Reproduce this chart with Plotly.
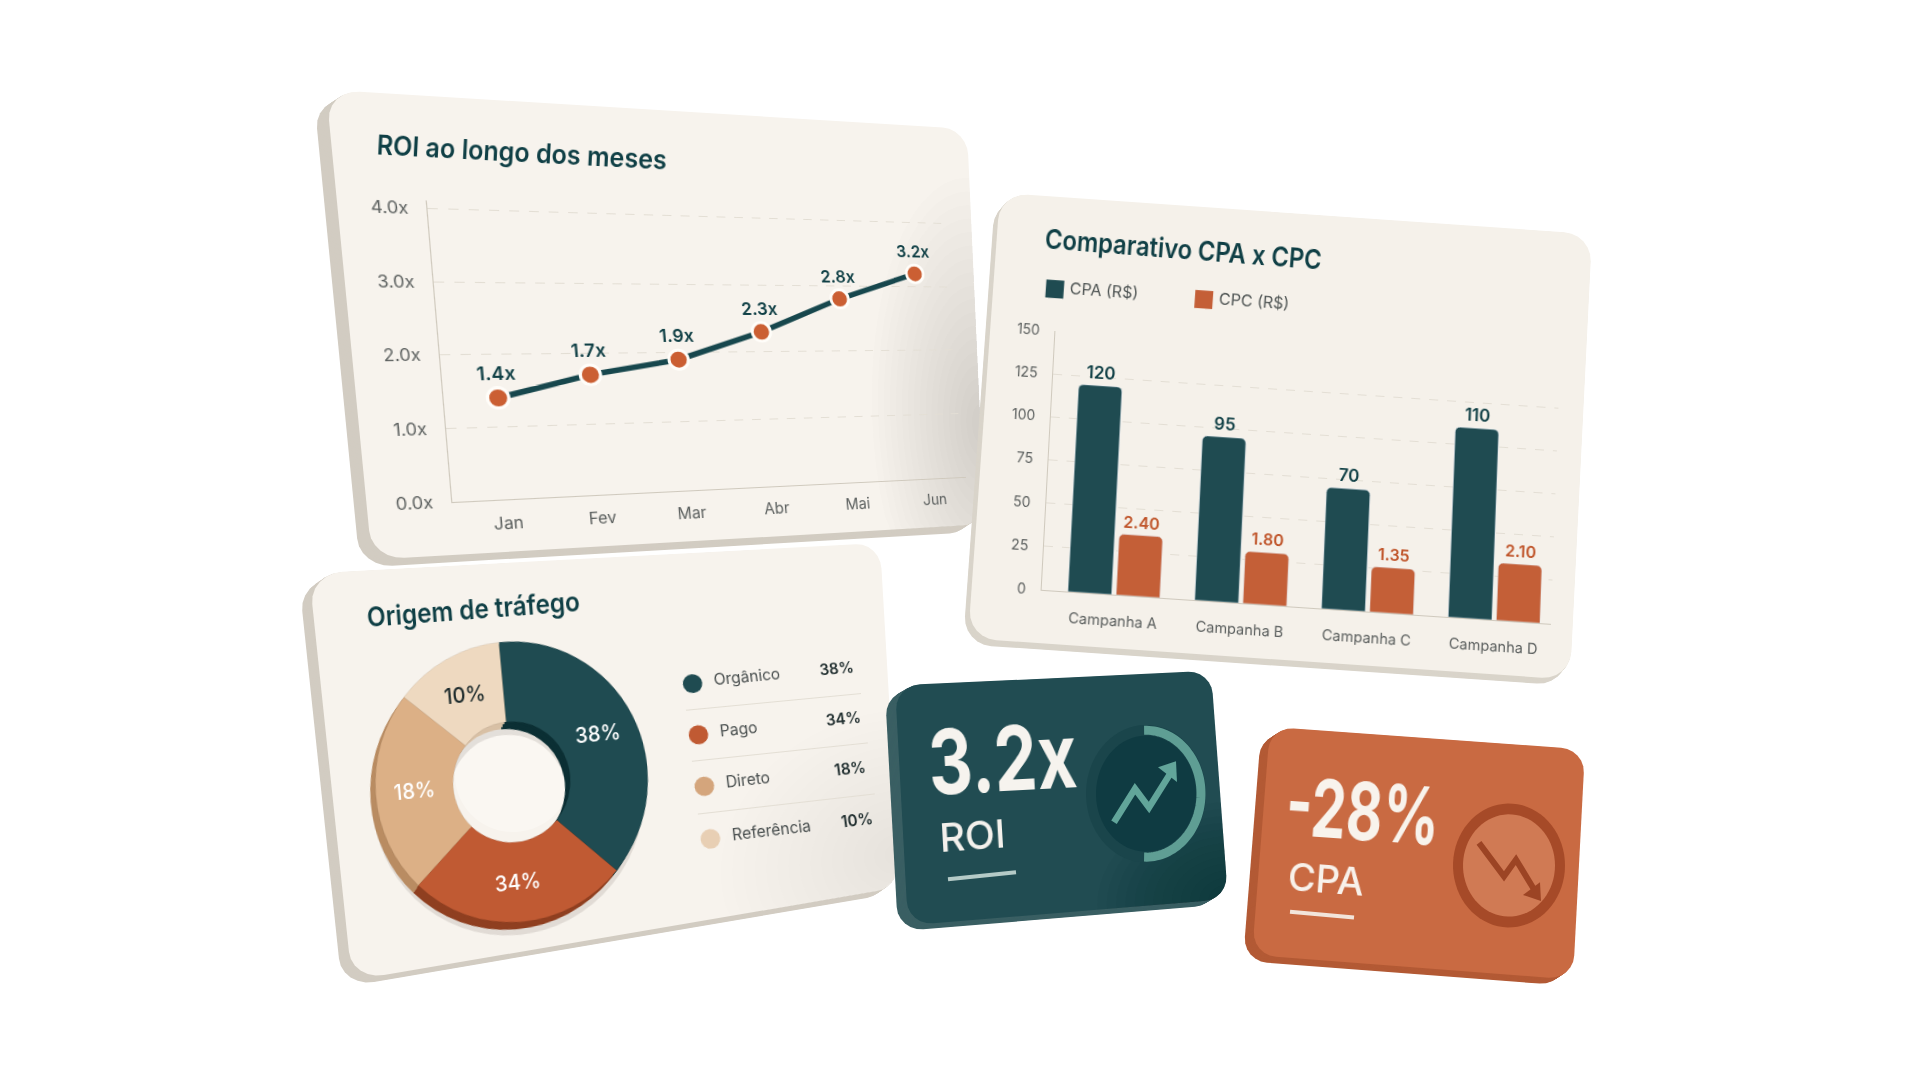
import json
import numpy as np
import plotly.graph_objects as go

# ---------- data ----------
months = ["Jan", "Fev", "Mar", "Abr", "Mai", "Jun"]
roi_values = [1.4, 1.7, 1.9, 2.3, 2.8, 3.2]
roi_ticks = [0, 1, 2, 3, 4]
roi_tick_labels = ["0.0x", "1.0x", "2.0x", "3.0x", "4.0x"]
campaigns = ["Campanha A", "Campanha B", "Campanha C", "Campanha D"]
cpa_values = [120, 95, 70, 110]
cpc_values = [2.40, 1.80, 1.35, 2.10]
cpc_bar_heights = [35, 30, 26, 33]      # drawn height of the CPC bars, on the 0-150 axis
bar_legend_names = ["CPA (R$)", "CPC (R$)"]
bar_ticks = [0, 25, 50, 75, 100, 125, 150]
traffic_labels = ["Orgânico", "Pago", "Direto", "Referência"]
traffic_pct = [38, 34, 18, 10]
traffic_arcs = [37.5, 26, 23.5, 13]     # drawn share of each slice

# ---------- palette ----------
TEAL = "#1f4b51"; TEAL_TXT = "#0f3f45"; ORANGE = "#c45f37"; ORANGE_TXT = "#bf5429"
TICK = "#5c605f"; AXIS = "#cfc9bd"; GRID = "#e3ded4"
FACE = "#f7f3ed"; SIDE = "#d2ccc2"
PIE = ["#1f4b51", "#c05a33", "#dcb086", "#eed9c0"]
PIE_DARK = ["#0b2f34", "#8f3f20", "#b98c62", "#d8c0a5"]
PIE_TXT = ["#ffffff", "#ffffff", "#ffffff", "#1c2a2b"]
FONT = "Inter"
W, H = 1920, 1080

# ---------- geometry helpers ----------
def homography(src, dst):
    A, b = [], []
    for (x, y), (u, v) in zip(src, dst):
        A.append([x, y, 1, 0, 0, 0, -u * x, -u * y]); b.append(u)
        A.append([0, 0, 0, x, y, 1, -v * x, -v * y]); b.append(v)
    return np.append(np.linalg.solve(np.array(A, float), np.array(b, float)), 1).reshape(3, 3)

def apply(M, x, y):
    p = M @ np.array([x, y, 1.0])
    return p[0] / p[2], p[1] / p[2]

def rect_pts(b):
    return [(b[0], b[1]), (b[2], b[1]), (b[2], b[3]), (b[0], b[3])]

def css(M):
    return ("matrix3d(%.8f,%.8f,0,%.10f,%.8f,%.8f,0,%.10f,0,0,1,0,%.6f,%.6f,0,%.8f)"
            % (M[0, 0], M[1, 0], M[2, 0], M[0, 1], M[1, 1], M[2, 1], M[0, 2], M[1, 2], M[2, 2]))

def frame(quad):
    """flat rectangle with the quad's mean edge lengths, centred on it, mapped onto the quad"""
    q = np.array(quad, float)
    w = (np.linalg.norm(q[1] - q[0]) + np.linalg.norm(q[2] - q[3])) / 2
    h = (np.linalg.norm(q[3] - q[0]) + np.linalg.norm(q[2] - q[1])) / 2
    c = q.mean(axis=0)
    b = (c[0] - w / 2, c[1] - h / 2, c[0] + w / 2, c[1] + h / 2)
    return {"b": b, "M": homography(rect_pts(b), quad), "sel": []}

def centre_frame(c, sw, sh, sx, sy, deg):
    a = np.radians(deg)
    u = np.array([np.cos(a), np.sin(a)]) * sx * sw / 2
    v = np.array([-np.sin(a), np.cos(a)]) * sy * sh / 2
    c = np.array(c, float)
    q = [tuple(c - u - v), tuple(c + u - v), tuple(c + u + v), tuple(c - u + v)]
    src = (c[0] - sw / 2, c[1] - sh / 2, c[0] + sw / 2, c[1] + sh / 2)
    return {"b": src, "M": homography(rect_pts(src), q), "sel": []}

def rounded(b, r, n=7):
    x0, y0, x1, y1 = b
    pts = []
    for cx, cy, a0 in [(x1 - r, y0 + r, -90), (x1 - r, y1 - r, 0), (x0 + r, y1 - r, 90), (x0 + r, y0 + r, 180)]:
        for t in np.radians(np.linspace(a0, a0 + 90, n)):
            pts.append((cx + r * np.cos(t), cy + r * np.sin(t)))
    return pts

def to_path(pts, close=True):
    s = "M" + " L".join("%.5f,%.5f" % (x / W, 1 - y / H) for x, y in pts)
    return s + (" Z" if close else "")

shapes = []
def poly(pts, fill, opacity=1.0):
    shapes.append(dict(type="path", xref="paper", yref="paper", path=to_path(pts), fillcolor=fill,
                       line=dict(width=0), opacity=opacity, layer="below"))

def stroke(pts, color, width, opacity=1.0):
    shapes.append(dict(type="path", xref="paper", yref="paper", path=to_path(pts, False),
                       line=dict(color=color, width=width), opacity=opacity, layer="below"))

def card(fr, face, side, off, r=28):
    pts = [apply(fr["M"], *p) for p in rounded(fr["b"], r)]
    for k in np.linspace(1, 0.1, 9):
        poly([(x + off[0] * k, y + off[1] * k) for x, y in pts], side)
    poly(pts, face)

def clamp(b, r, x, y):
    x0, y0, x1, y1 = b
    x, y = min(max(x, x0), x1), min(max(y, y0), y1)
    cx = min(max(x, x0 + r), x1 - r)
    cy = min(max(y, y0 + r), y1 - r)
    d = np.hypot(x - cx, y - cy)
    if d > r:
        x, y = cx + (x - cx) * r / d, cy + (y - cy) * r / d
    return x, y

def blob(fr, cu, cv, ru, rv, steps, color, op, r=28):
    """soft shading: a stack of faint ellipses kept inside the card face"""
    x0, y0, x1, y1 = fr["b"]
    w, h = x1 - x0, y1 - y0
    for k in np.linspace(1, 0.08, steps):
        pts = []
        for t in np.radians(np.linspace(0, 360, 60)):
            fx = x0 + cu * w + ru * w * k * np.cos(t)
            fy = y0 + cv * h + rv * h * k * np.sin(t)
            pts.append(apply(fr["M"], *clamp(fr["b"], r, fx, fy)))
        poly(pts, color, op)

def ellipse(c, rx, ry, a0=0, a1=360, n=72):
    t = np.radians(np.linspace(a0, a1, n))
    return [(c[0] + rx * np.cos(k), c[1] + ry * np.sin(k)) for k in t]

# ---------- card frames (target quads in page pixels) ----------
F_origem = frame([(309, 574), (880, 543), (900, 893), (352, 988)])
F_roi = frame([(326, 82), (967, 122), (985, 524), (372, 560)])
F_comp = frame([(1000, 187), (1592, 229), (1570, 682), (968, 640)])
F_k1 = frame([(895, 688), (1211, 673), (1228, 905), (908, 932)])
F_k2 = frame([(1270, 730), (1585, 753), (1573, 987), (1252, 962)])

card(F_origem, FACE, SIDE, (-10, 7))
blob(F_origem, 1.0, 0.9, 0.36, 0.42, 16, "#85817c", 0.008)
poly(ellipse((513, 779), 58, 58), "#faf7f2")
card(F_roi, FACE, SIDE, (-12, 8))
blob(F_roi, 1.0, 0.74, 0.2, 0.62, 18, "#7a7468", 0.013)
card(F_comp, "#f5f1ea", "#d9d4ca", (-5, 6))
card(F_k1, "#214c52", "#3a5f63", (-10, 6), 24)
blob(F_k1, 1.0, 1.0, 0.42, 0.42, 14, "#0a2d32", 0.045, 24)
card(F_k2, "#c96a42", "#b35a35", (-9, 6), 24)

# KPI icons
c1 = (1146, 798)
poly(ellipse(c1, 60, 70), "#1a454b")
poly(ellipse(c1, 50, 59), "#0f3b42")
stroke(ellipse(c1, 55, 64.5, -92, 92), "#5f9e94", 9)
stroke([(1114, 827), (1135, 793), (1149, 812), (1170, 778)], "#62a59a", 6.5)
poly([(1176, 765), (1158, 771), (1177, 786)], "#62a59a")
stroke([(948, 885), (1016, 878)], "#cfe0dc", 4, 0.85)

c2 = (1509, 871)
poly(ellipse(c2, 56, 63), "#a64a28")
poly(ellipse(c2, 46, 52), "#d07a54")
stroke([(1479, 848), (1504, 882), (1516, 865), (1535, 897)], "#9c4424", 6)
poly([(1541, 907), (1523, 901), (1540, 888)], "#9c4424")
stroke([(1290, 918), (1354, 924)], "#f5ece4", 4, 0.95)

# ---------- annotations ----------
annotations = []
def text(fr, px, py, s, size, color, weight=500, anchor="left"):
    x, y = apply(np.linalg.inv(fr["M"]), px, py)
    i = len(annotations)
    annotations.append(dict(xref="paper", yref="paper", x=x / W, y=1 - y / H, text=s, showarrow=False,
                            xanchor=anchor, yanchor="middle",
                            font=dict(family=FONT, size=size, color=color, weight=weight)))
    fr["sel"].append('.annotation[data-index="%d"]' % i)

F_t1 = centre_frame((522, 146), 420, 60, 0.93, 1.0, 3.0)
F_t2 = centre_frame((1184, 245), 420, 60, 0.88, 1.0, 4.4)
F_t3 = centre_frame((473, 611), 420, 60, 0.90, 1.0, -4.3)
text(F_t1, 522, 146, "ROI ao longo dos meses", 27, TEAL_TXT, 600, "center")
text(F_t2, 1184, 245, "Comparativo CPA x CPC", 27, TEAL_TXT, 600, "center")
text(F_t3, 473, 611, "Origem de tráfego", 27, TEAL_TXT, 600, "center")
text(F_k1, 973, 840, "ROI", 38, "#f4f1ec", 500, "center")
text(F_k2, 1325, 885, "CPA", 38, "#f8f1ea", 500, "center")
F_big1 = centre_frame((1003, 762), 240, 120, 0.76, 1.0, -3)
F_big2 = centre_frame((1363, 815), 260, 120, 0.70, 1.0, 4)
text(F_big1, 1003, 762, "3.2x", 90, "#f6f3ee", 700, "center")
text(F_big2, 1363, 815, "-28%", 80, "#f8f3ec", 700, "center")

# ---------- plot frames ----------
Q_line = [(426, 194), (942, 211), (966, 476), (452, 501)]
Q_bars = [(1056, 328), (1560, 362), (1551, 625), (1042, 591)]
Q_leg = [(681, 661), (854, 646), (882, 850), (705, 872)]
F_line, F_bars, F_leg = frame(Q_line), frame(Q_bars), frame(Q_leg)
F_bleg = centre_frame((1184, 294), 272, 40, 1.0, 1.0, 4)
F_line["sel"].append(".subplot.xy")
F_bars["sel"].append(".subplot.x2y2")
F_leg["sel"].append(".subplot.x3y3")
F_bleg["sel"].append(".subplot.x5y5")

def dom(b):
    return dict(x=[b[0] / W, b[2] / W], y=[1 - b[3] / H, 1 - b[1] / H])

fig = go.Figure()

# line chart
xm = list(range(len(months)))
fig.add_trace(go.Scatter(
    x=xm, y=roi_values, mode="lines+markers+text", xaxis="x", yaxis="y",
    name="ROI", cliponaxis=False, line=dict(color="#17474d", width=5.5),
    marker=dict(size=19, color="#cb5f33", line=dict(color="#fffdf9", width=3)),
    texttemplate="%{y:.1f}x", textposition="top center",
    textfont=dict(family=FONT, size=17.5, color=TEAL_TXT, weight=600)))

# bars
xpos = list(range(len(campaigns)))
fig.add_trace(go.Bar(x=xpos, y=cpa_values, xaxis="x2", yaxis="y2", name=bar_legend_names[0],
                     width=0.345, offset=-0.3625, marker=dict(color=TEAL, cornerradius=5),
                     text=cpa_values, textposition="outside", cliponaxis=False,
                     textfont=dict(family=FONT, size=17, color=TEAL_TXT, weight=600)))
fig.add_trace(go.Bar(x=xpos, y=cpc_bar_heights, xaxis="x2", yaxis="y2", name=bar_legend_names[1],
                     width=0.345, offset=0.0175, marker=dict(color=ORANGE, cornerradius=5),
                     text=["%.2f" % v for v in cpc_values], textposition="outside", cliponaxis=False,
                     textfont=dict(family=FONT, size=16, color=ORANGE_TXT, weight=600)))
fig.add_trace(go.Scatter(x=[0.025, 0.574], y=[0.5, 0.5], mode="markers", xaxis="x5", yaxis="y5",
                         cliponaxis=False, showlegend=False,
                         marker=dict(symbol="square", size=18, color=[TEAL, ORANGE])))
fig.add_trace(go.Scatter(x=[0.08, 0.63], y=[0.5, 0.5], mode="text", xaxis="x5", yaxis="y5",
                         cliponaxis=False, showlegend=False, text=bar_legend_names,
                         textposition="middle right",
                         textfont=dict(family=FONT, size=16, color="#4f5554")))

# donut legend
rows = [i + 0.5 for i in range(len(traffic_labels))]
fig.add_trace(go.Scatter(x=[0.05] * 4, y=rows, mode="markers", xaxis="x3", yaxis="y3", cliponaxis=False,
                         marker=dict(size=19, color=PIE[:2] + ["#d4a57c", "#e8cfb4"]), showlegend=False))
fig.add_trace(go.Scatter(x=[0.17] * 4, y=rows, mode="text", xaxis="x3", yaxis="y3", cliponaxis=False,
                         text=traffic_labels, textposition="middle right", showlegend=False,
                         textfont=dict(family=FONT, size=15.5, color="#484e4e")))
fig.add_trace(go.Scatter(x=[0.88] * 4, y=rows, mode="text", xaxis="x3", yaxis="y3", cliponaxis=False,
                         text=["%d%%" % v for v in traffic_pct], textposition="middle center", showlegend=False,
                         textfont=dict(family=FONT, size=15.5, color="#1d2b2c", weight=600)))

# donut: stacked layers give the thickness
pc, half = (512, 786), 144
U, V = np.array([138, -15]), np.array([13, 142])
pc_a = np.array(pc, float)
src_pie = (pc[0] - half, pc[1] - half, pc[0] + half, pc[1] + half)
F_pie = {"b": src_pie,
         "M": homography(rect_pts(src_pie), [tuple(pc_a - U - V), tuple(pc_a + U - V), tuple(pc_a + U + V), tuple(pc_a - U + V)]),
         "sel": [".pielayer .trace"]}
layers = [((-5, 13), ["rgba(90,80,70,0.14)"] * 4), ((-6, 7), PIE_DARK), ((-4, 5), PIE_DARK), ((-2, 2), PIE_DARK), ((0, 0), PIE)]
for (dx, dy), cols in layers:
    top = (dx, dy) == (0, 0)
    b = (src_pie[0] + dx, src_pie[1] + dy, src_pie[2] + dx, src_pie[3] + dy)
    fig.add_trace(go.Pie(labels=traffic_labels, values=traffic_arcs, sort=False, direction="clockwise", rotation=0,
                         hole=0.43, domain=dom(b), marker=dict(colors=cols, line=dict(width=0.5 if top else 0, color="rgba(0,0,0,0.12)")),
                         text=["%d%%" % v for v in traffic_pct] if top else None,
                         textinfo="text" if top else "none", textposition="inside", insidetextorientation="horizontal",
                         insidetextfont=dict(family=FONT, size=21, color=PIE_TXT, weight=500),
                         showlegend=False, hoverinfo="skip"))

d1, d2, d3, d5 = dom(F_line["b"]), dom(F_bars["b"]), dom(F_leg["b"]), dom(F_bleg["b"])
def xax(d, rng, vals, labels, size, off, **kw):
    return dict(domain=d["x"], range=rng, tickmode="array", tickvals=vals, ticktext=labels, showgrid=False, zeroline=False,
                showline=True, linecolor=AXIS, linewidth=1.2, ticks="", ticklabelstandoff=off,
                tickfont=dict(family=FONT, size=size, color=TICK), **kw)
def yax(d, rng, vals, size, **kw):
    return dict(domain=d["y"], range=rng, tickmode="array", tickvals=vals, showgrid=True, gridcolor=GRID, griddash="dash",
                gridwidth=1, zeroline=False, showline=True, linecolor=AXIS, linewidth=1.2, ticks="", ticklabelstandoff=12,
                tickfont=dict(family=FONT, size=size, color=TICK), **kw)

fig.update_layout(
    width=W, height=H, margin=dict(l=0, r=0, t=0, b=0), paper_bgcolor="white", plot_bgcolor="rgba(0,0,0,0)",
    showlegend=False, hovermode=False, shapes=shapes, annotations=annotations, barmode="overlay",
    xaxis=xax(d1, [-0.56, 5.44], xm, months, 15.5, 8, anchor="y"),
    yaxis=yax(d1, [0, 4.12], roi_ticks, 15.5, anchor="x", ticktext=roi_tick_labels),
    xaxis2=xax(d2, [-0.566, 3.45], xpos, campaigns, 14.5, 12, anchor="y2"),
    yaxis2=yax(d2, [0, 150], bar_ticks, 14, anchor="x2"),
    xaxis3=dict(domain=d3["x"], range=[0, 1], visible=False, anchor="y3"),
    yaxis3=dict(domain=d3["y"], range=[4, 0], tickmode="array", tickvals=[1, 2, 3], showticklabels=False, showgrid=True,
                gridcolor=GRID, gridwidth=1, zeroline=False, showline=False, ticks="", anchor="x3"),
    xaxis5=dict(domain=d5["x"], range=[0, 1], visible=False, anchor="y5"),
    yaxis5=dict(domain=d5["y"], range=[0, 1], visible=False, anchor="x5"),
)

frames = [F_origem, F_pie, F_leg, F_t3, F_roi, F_line, F_t1, F_comp, F_bars, F_bleg, F_t2, F_k1, F_k2, F_big1, F_big2]
payload = [{"t": css(f["M"]), "sel": f["sel"]} for f in frames if f["sel"]]
post = """
var gd=document.getElementById('{plot_id}');
document.body.style.margin='0';document.body.style.overflow='hidden';
var host=gd.querySelector('.svg-container');
var NS='http://www.w3.org/2000/svg';
%s.forEach(function(f){
  var s=document.createElementNS(NS,'svg');
  s.setAttribute('width','1920');s.setAttribute('height','1080');
  s.setAttribute('style','position:absolute;left:0;top:0;overflow:visible;pointer-events:none;transform-origin:0 0;transform:'+f.t);
  f.sel.forEach(function(q){gd.querySelectorAll(q).forEach(function(n){s.appendChild(n);});});
  host.appendChild(s);
});
""" % json.dumps(payload)

fig.write_html("out.html", post_script=post, config={"staticPlot": True, "responsive": False})
